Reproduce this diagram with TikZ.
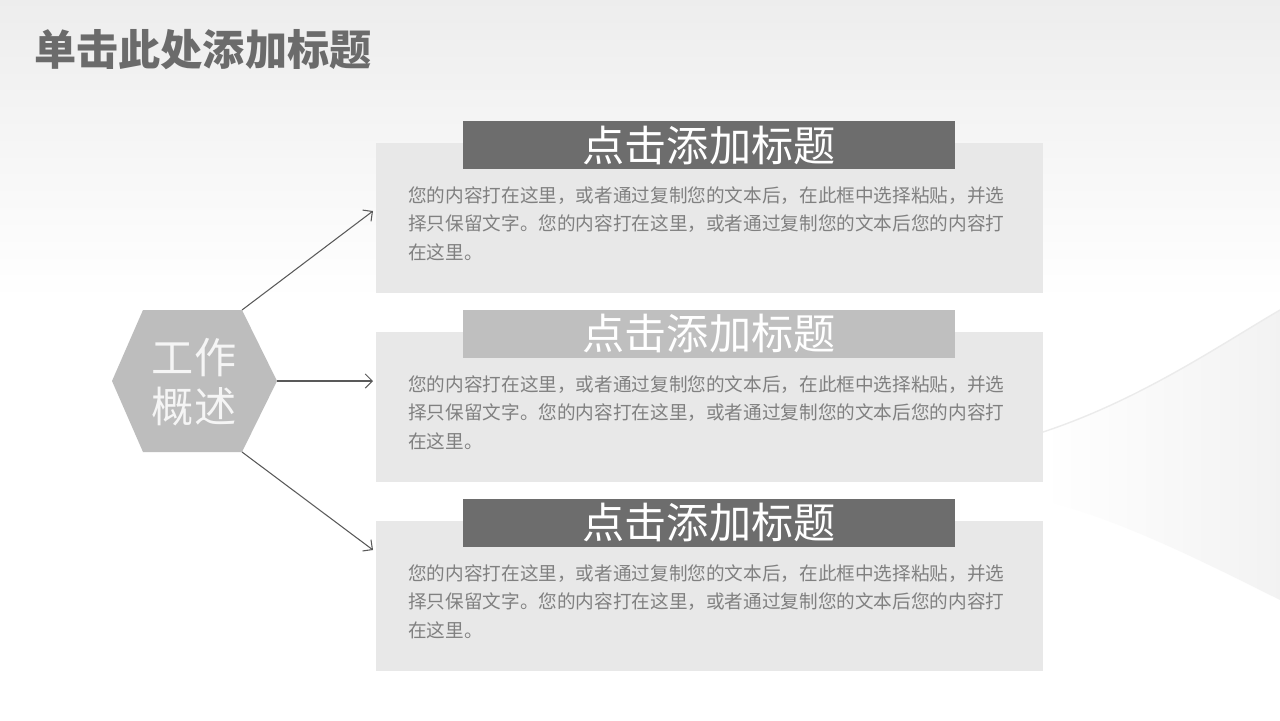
\documentclass[tikz,border=0pt]{standalone}
\usepackage{fontspec}
\setmainfont{Noto Sans CJK SC}
\usepackage{tikz}
\usetikzlibrary{calc,arrows.meta}

\definecolor{darkhead}{HTML}{6D6D6D}
\definecolor{lighthead}{HTML}{BFBFBF}
\definecolor{boxfill}{HTML}{E8E8E8}
\definecolor{bodytext}{HTML}{808080}
\definecolor{hexfill}{HTML}{BDBDBD}
\definecolor{titlegray}{HTML}{6B6B6B}

\begin{document}
\begin{tikzpicture}[x=0.02cm,y=-0.02cm,
  contentbox/.style={fill=boxfill,minimum width=13.34cm,minimum height=3cm,inner sep=0pt},
  headbox/.style={minimum width=9.84cm,minimum height=0.96cm,inner sep=0pt,text=white,
    font=\fontsize{24}{28}\selectfont},
  bodybox/.style={anchor=north west,inner sep=0pt,text=bodytext,align=left,
    font=\fontsize{10.6}{16.4}\selectfont},
  link/.style={draw=black!65,line width=0.6pt,-{Straight Barb[length=4pt,width=8pt,line width=0.6pt]}}]
 \useasboundingbox (0,0) rectangle (1280,720);
 % background
 \fill[white] (0,0) rectangle (1280,720);
 \shade[top color=black!7,bottom color=white] (0,0) rectangle (1280,300);
 \shade[left color=white,right color=black!5]
   (1043,432) .. controls (1140,400) and (1220,345) .. (1280,310)
   -- (1280,600) .. controls (1200,560) and (1120,520) .. (1043,500) -- cycle;
 \draw[black!8,line width=0.8pt] (1043,432) .. controls (1140,400) and (1220,345) .. (1280,310);

 \node[anchor=west,text=titlegray,font=\fontsize{24}{28}\selectfont\bfseries] (title) at (28,50) {单击此处添加标题};

 \coordinate (h1) at (143,310);
 \coordinate (h2) at (242,310);
 \coordinate (h3) at (277,381);
 \coordinate (h4) at (242,452);
 \coordinate (h5) at (143,452);
 \coordinate (h6) at (112,381);
 \coordinate (t1) at (373,211);
 \coordinate (t2) at (373,381);
 \coordinate (t3) at (373,550);

\fill[hexfill] (h1) -- (h2) -- (h3) -- (h4) -- (h5) -- (h6) -- cycle;
\node[text=white!96!black,align=center,font=\fontsize{24}{28.3}\selectfont] (hex) at (194,382) {工作\\概述};

\node[contentbox] (box1) at (709.5,218) {};
\node[contentbox] (box2) at (709.5,407) {};
\node[contentbox] (box3) at (709.5,596) {};

\node[headbox,fill=darkhead] (head1) at (709,145) {点击添加标题};
\node[headbox,fill=lighthead] (head2) at (709,333.5) {点击添加标题};
\node[headbox,fill=darkhead] (head3) at (709,522.5) {点击添加标题};

\node[bodybox] (text1) at (408,186) {您的内容打在这里，或者通过复制您的文本后，在此框中选择粘贴，并选\\择只保留文字。您的内容打在这里，或者通过复制您的文本后您的内容打\\在这里。};
\node[bodybox] (text2) at (408,375) {您的内容打在这里，或者通过复制您的文本后，在此框中选择粘贴，并选\\择只保留文字。您的内容打在这里，或者通过复制您的文本后您的内容打\\在这里。};
\node[bodybox] (text3) at (408,564) {您的内容打在这里，或者通过复制您的文本后，在此框中选择粘贴，并选\\择只保留文字。您的内容打在这里，或者通过复制您的文本后您的内容打\\在这里。};

\draw[link] (h2) -- (t1);
\draw[link] (h3) -- (t2);
\draw[link] (h4) -- (t3);
  \end{tikzpicture}
\end{document}
